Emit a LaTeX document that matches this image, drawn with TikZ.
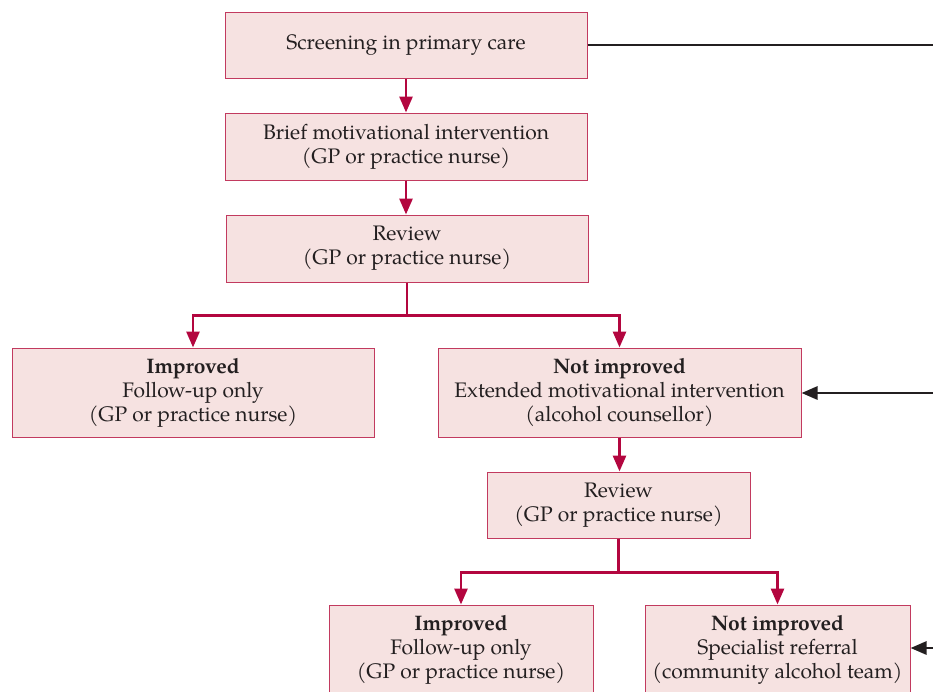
\documentclass[tikz,border=0pt]{standalone}
\usepackage{fontspec}
\setmainfont{texgyrepagella}[Extension=.otf, UprightFont=*-regular, BoldFont=*-bold, ItalicFont=*-italic, BoldItalicFont=*-bolditalic]
\usetikzlibrary{arrows.meta}
\definecolor{boxfill}{HTML}{F6E2E1}
\definecolor{boxline}{HTML}{C23A5F}
\definecolor{conn}{HTML}{B3063F}
\definecolor{txt}{HTML}{231F20}
\tikzset{
  stagebox/.style={draw=boxline, fill=boxfill, line width=1pt, rectangle, align=center,
    text=txt, font=\fontsize{21}{24}\selectfont, inner sep=0pt},
  flow/.style={draw=conn, line width=2.8pt, -{Triangle[length=16pt,width=13pt]}},
  feed/.style={draw=txt, line width=2.8pt},
  feedarrow/.style={feed, -{Triangle[length=16pt,width=13pt]}}
}
\begin{document}
\begin{tikzpicture}[x=1pt,y=-1pt]
\useasboundingbox (0,0) rectangle (933,691);
\clip (0,0) rectangle (933,691);
\node[stagebox, minimum width=362pt, minimum height=66pt] (s) at (406,45) {Screening in primary care};
\node[stagebox, minimum width=362pt, minimum height=67pt] (b) at (406,146.5) {Brief motivational intervention\\(GP or practice nurse)};
\node[stagebox, minimum width=362pt, minimum height=67pt] (r) at (407,248.5) {Review\\(GP or practice nurse)};
\node[stagebox, minimum width=362pt, minimum height=89pt] (i) at (193,392.5) {\textbf{Improved}\\Follow-up only\\(GP or practice nurse)};
\node[stagebox, minimum width=363pt, minimum height=89pt] (n) at (619.5,392.5) {\textbf{Not improved}\\Extended motivational intervention\\(alcohol counsellor)};
\node[stagebox, minimum width=263pt, minimum height=66pt] (r2) at (618.5,505) {Review\\(GP or practice nurse)};
\node[stagebox, minimum width=264pt, minimum height=89pt] (i2) at (461,649.5) {\textbf{Improved}\\Follow-up only\\(GP or practice nurse)};
\node[stagebox, minimum width=265pt, minimum height=89pt] (n2) at (777.5,649.5) {\textbf{Not improved}\\Specialist referral\\(community alcohol team)};
\coordinate (e1) at (933,45);
\coordinate (e2) at (933,393);
\coordinate (e3) at (933,648);
\draw[flow] (s.south) -- (b.north);
\draw[flow] (b.south) -- (b.south |- r.north);
\draw[flow] (r.south) -- ++(0,33) -| (i.north);
\draw[flow] (r.south) -- ++(0,33) -| (n.north);
\draw[flow] (n.south) -- (n.south |- r2.north);
\draw[flow] (r2.south) -- ++(0,34) -| (i2.north);
\draw[flow] (r2.south) -- ++(0,34) -| (n2.north);
\draw[feed] (s.east) -- (e1);
\draw[feedarrow] (e2) -- (n.east |- e2);
\draw[feedarrow] (e3) -- (n2.east |- e3);
\end{tikzpicture}
\end{document}
